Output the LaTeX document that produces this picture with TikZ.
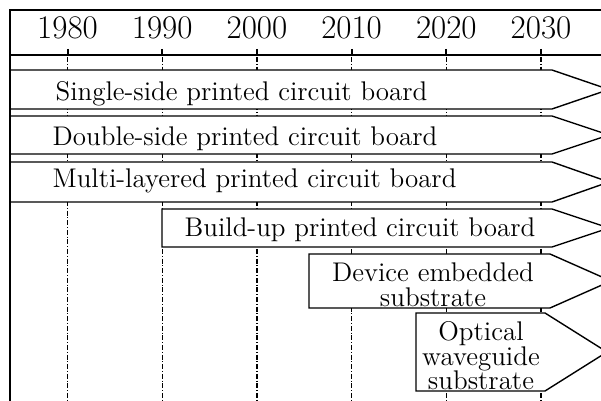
\documentclass[tikz,border=0pt]{standalone}
\usetikzlibrary{positioning}

\begin{document}
\begin{tikzpicture}[
  x=0.5pt, y=-0.5pt,
  year/.style={font=\fontsize{16.5}{16.5}\selectfont, anchor=base, inner sep=0pt},
  band/.style={draw, fill=white, line width=0.7pt, line join=miter},
  tech/.style={font=\fontsize{13.5}{12.3}\selectfont, align=center, inner sep=0pt},
  decade/.style={line width=0.6pt, dash pattern=on 2.5pt off 0.9pt on 0.5pt off 0.9pt},
  tick/.style={line width=1pt},
  border/.style={line width=1.4pt, line cap=rect},
]
  \useasboundingbox (0,0) rectangle (601,401);
  \clip (0,0) rectangle (601,401);

  % decade marks
  \draw[tick] (67.5,49) -- (67.5,55);
  \draw[decade] (67.5,57) -- (67.5,401);
  \node[year] (y1980) at (67.5,39) {1980};

  \draw[tick] (162.2,49) -- (162.2,55);
  \draw[decade] (162.2,57) -- (162.2,401);
  \node[year] (y1990) at (162.2,39) {1990};

  \draw[tick] (256.9,49) -- (256.9,55);
  \draw[decade] (256.9,57) -- (256.9,401);
  \node[year] (y2000) at (256.9,39) {2000};

  \draw[tick] (351.6,49) -- (351.6,55);
  \draw[decade] (351.6,57) -- (351.6,401);
  \node[year] (y2010) at (351.6,39) {2010};

  \draw[tick] (446.3,49) -- (446.3,55);
  \draw[decade] (446.3,57) -- (446.3,401);
  \node[year] (y2020) at (446.3,39) {2020};

  \draw[tick] (541,49) -- (541,55);
  \draw[decade] (541,57) -- (541,401);
  \node[year] (y2030) at (541,39) {2030};

  \draw[line width=0.7pt] (10,55) -- (601,55);

  % Single-side
  \draw[band] (10,70) -- (552,70) -- (609,89.5) -- (552,109) -- (10,109) -- cycle;
  \node[tech, anchor=base] (single) at (241.5,101) {Single-side printed circuit board};

  % Double-side
  \draw[band] (10,116) -- (552,116) -- (609,135) -- (552,154) -- (10,154) -- cycle;
  \node[tech, anchor=base] (double) at (245,146) {Double-side printed circuit board};

  % Multi-layered
  \draw[band] (10,162) -- (552,162) -- (609,182) -- (552,202) -- (10,202) -- cycle;
  \node[tech, anchor=base] (multi) at (254.5,188) {Multi-layered printed circuit board};

  % Build-up
  \draw[band] (162,209) -- (552,209) -- (609,228) -- (552,247) -- (162,247) -- cycle;
  \node[tech, anchor=base] (buildup) at (360,237) {Build-up printed circuit board};

  % Device embedded
  \draw[band] (309,254) -- (550,254) -- (611,281) -- (550,308) -- (309,308) -- cycle;
  \node[tech] (embedded) at (433,285) {Device embedded\\ substrate};

  % Optical waveguide
  \draw[band] (416,313) -- (545,313) -- (607,352) -- (545,391) -- (416,391) -- cycle;
  \node[tech] (optical) at (481,356) {Optical\\ waveguide\\ substrate};

  \draw[border] (10,401) -- (10,10) -- (601,10);
\end{tikzpicture}
\end{document}
